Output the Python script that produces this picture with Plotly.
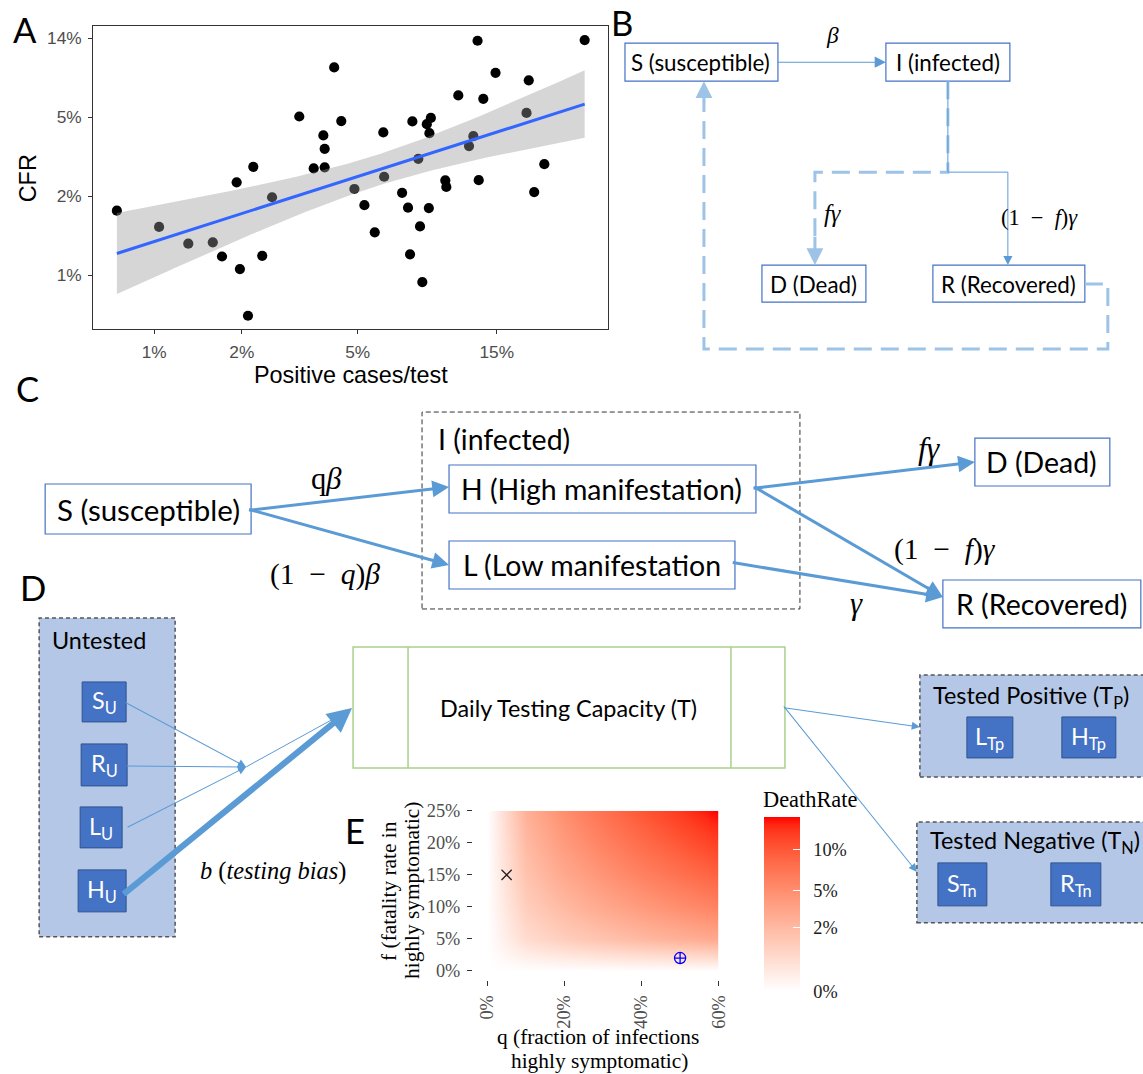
import numpy as np
import plotly.graph_objects as go

W, H = 1143, 1074

# ---------------- Panel A data (positive cases/test %, CFR on plotted scale) ----------------
positive_rate = [0.745, 1.04, 1.31, 1.59, 1.71, 1.92, 1.97, 2.10, 2.19, 2.35, 2.54, 3.15,
                 3.53, 3.81, 3.85, 3.85, 4.15, 4.39, 4.87, 5.27, 5.72, 6.12, 6.16, 7.10,
                 7.44, 7.56, 7.70, 8.07, 8.18, 8.33, 8.63, 8.81, 8.91, 8.77, 9.99, 10.07,
                 11.07, 12.05, 12.47, 13.01, 12.89, 13.49, 14.86, 18.98, 19.32, 20.17, 21.85, 30.06]
cfr = [2.05, 1.71, 1.42, 1.44, 1.23, 2.81, 1.07, 0.636, 3.34, 1.24, 2.38, 5.85,
       3.28, 4.74, 4.08, 3.32, 10.1, 5.56, 2.61, 2.18, 1.61, 4.90, 2.99, 2.50,
       2.12, 1.26, 5.54, 3.65, 1.72, 0.925, 5.37, 4.86, 5.76, 2.11, 2.87, 2.67,
       7.40, 4.21, 4.70, 2.88, 13.6, 7.12, 9.51, 6.09, 8.75, 2.52, 3.44, 13.7]
x_tickvals = [1, 2, 5, 15]
x_ticktext = ["1%", "2%", "5%", "15%"]
y_tickvals = [1, 2.41, 5.81, 14]
y_ticktext = ["1%", "2%", "5%", "14%"]

# ---------------- Panel E data ----------------
q_values = [0.0, 0.1, 0.2, 0.3, 0.4, 0.5, 0.6]
f_values = [0.0, 0.05, 0.10, 0.15, 0.20, 0.25]
death_rate = [
    [0.0, 0.0,   0.0,  0.0,   0.0,  0.0,   0.0],
    [0.0, 0.005, 0.01, 0.015, 0.02, 0.025, 0.03],
    [0.0, 0.01,  0.02, 0.03,  0.04, 0.05,  0.06],
    [0.0, 0.015, 0.03, 0.045, 0.06, 0.075, 0.09],
    [0.0, 0.02,  0.04, 0.06,  0.08, 0.10,  0.12],
    [0.0, 0.025, 0.05, 0.075, 0.10, 0.125, 0.15],
]
marker_q = [0.05, 0.50]
marker_f = [0.15, 0.02]
q_ticks = [0, 0.2, 0.4, 0.6]
q_ticktext = ["0%", "20%", "40%", "60%"]
f_ticks = [0, 0.05, 0.10, 0.15, 0.20, 0.25]
f_ticktext = ["0%", "5%", "10%", "15%", "20%", "25%"]
legend_ticks = [0, 0.02, 0.05, 0.10]
legend_ticktext = ["0%", "2%", "5%", "10%"]

# ---------------- styling ----------------
SANS = "Liberation Sans"
DIAG = "Lato"
SERIF = "Liberation Serif"
BLUE_LINE = "#5B9BD5"
BLUE_LIGHT = "#9DC3E6"
BOX_BORDER = "#4472C4"
FILL_LIGHT = "#B4C7E7"
SQ_FILL = "#4472C4"
SQ_LINE = "#2F528F"
GREEN = "#A9D18E"
SP = "\u2002"  # en space around operators in math labels

# The photographed page shows the figure inset by ~10 px and scaled; layout positions
# below are given in picture pixels and mapped back to paper coordinates.
SX, SY = W / (W + 20), H / (H + 20)
OX, OY = 10 * SX, 10 * SY
K = 1 / SX  # size factor for fonts / pixel lengths


def PX(x):
    return ((x - OX) / SX) / W


def PY(y):
    return 1 - ((y - OY) / SY) / H


shapes = []
annotations = []


def rect(x0, y0, x1, y1, color, width=1.2, fill="rgba(0,0,0,0)", dash="solid"):
    shapes.append(dict(type="rect", xref="paper", yref="paper",
                       x0=PX(x0), x1=PX(x1), y0=PY(y1), y1=PY(y0),
                       line=dict(color=color, width=width, dash=dash),
                       fillcolor=fill, layer="above"))


def poly(points, color, width, dash="solid"):
    path = "M " + " L ".join(f"{PX(x):.5f},{PY(y):.5f}" for x, y in points)
    shapes.append(dict(type="path", xref="paper", yref="paper", path=path,
                       line=dict(color=color, width=width, dash=dash), layer="above"))


def arrow(tail, head, color, width, size, style=2):
    annotations.append(dict(x=PX(head[0]), y=PY(head[1]), xref="paper", yref="paper",
                            ax=(tail[0] - head[0]) / SX, ay=(tail[1] - head[1]) / SY,
                            axref="pixel", ayref="pixel", text="", showarrow=True,
                            arrowhead=style, arrowsize=size, arrowwidth=width * K,
                            arrowcolor=color, standoff=0, startstandoff=0))


def label(x, y, s, size, family=DIAG, color="black", xanchor="center", angle=0):
    annotations.append(dict(x=PX(x), y=PY(y), xref="paper", yref="paper", text=s,
                            showarrow=False, xanchor=xanchor, yanchor="middle",
                            textangle=angle, font=dict(size=size * K, family=family, color=color)))


# ---------------- Lab gradient white -> red (ggplot style) ----------------
def _to_lin(c):
    c = c / 255.0
    return c / 12.92 if c <= 0.04045 else ((c + 0.055) / 1.055) ** 2.4


def _to_srgb(c):
    c = min(max(c, 0.0), 1.0)
    v = 12.92 * c if c <= 0.0031308 else 1.055 * c ** (1 / 2.4) - 0.055
    return int(round(v * 255))


def rgb2lab(rgb):
    r, g, b = [_to_lin(v) for v in rgb]
    X = (0.4124 * r + 0.3576 * g + 0.1805 * b) / 0.95047
    Y = (0.2126 * r + 0.7152 * g + 0.0722 * b)
    Z = (0.0193 * r + 0.1192 * g + 0.9505 * b) / 1.08883
    f = lambda t: t ** (1 / 3) if t > 0.008856 else 7.787 * t + 16 / 116
    fx, fy, fz = f(X), f(Y), f(Z)
    return (116 * fy - 16, 500 * (fx - fy), 200 * (fy - fz))


def lab2rgb(lab):
    L, a, b = lab
    fy = (L + 16) / 116
    fx = fy + a / 500
    fz = fy - b / 200
    finv = lambda t: t ** 3 if t ** 3 > 0.008856 else (t - 16 / 116) / 7.787
    X, Y, Z = 0.95047 * finv(fx), finv(fy), 1.08883 * finv(fz)
    r = 3.2406 * X - 1.5372 * Y - 0.4986 * Z
    g = -0.9689 * X + 1.8758 * Y + 0.0415 * Z
    bb = 0.0557 * X - 0.2040 * Y + 1.0570 * Z
    return f"rgb({_to_srgb(r)},{_to_srgb(g)},{_to_srgb(bb)})"


lab_w, lab_r = rgb2lab((255, 255, 255)), rgb2lab((255, 0, 0))
colorscale = []
for t in np.linspace(0, 1, 21):
    lab = tuple(lab_w[i] + (lab_r[i] - lab_w[i]) * t for i in range(3))
    colorscale.append([float(t), lab2rgb(lab)])

# ---------------- Panel A regression (lm on log-log scale) ----------------
lx = np.log10(np.array(positive_rate))
ly = np.log10(np.array(cfr))
slope, intercept = np.polyfit(lx, ly, 1)
n = len(lx)
resid = ly - (intercept + slope * lx)
s_err = np.sqrt((resid ** 2).sum() / (n - 2))
xg = np.linspace(lx.min(), lx.max(), 100)
fit = intercept + slope * xg
se = s_err * np.sqrt(1 / n + (xg - lx.mean()) ** 2 / ((lx - lx.mean()) ** 2).sum())
t_crit = 2.0129
rib_x = np.concatenate([10 ** xg, (10 ** xg)[::-1]])
rib_y = np.concatenate([10 ** (fit + t_crit * se), (10 ** (fit - t_crit * se))[::-1]])

fig = go.Figure()
fig.add_trace(go.Scatter(x=positive_rate, y=cfr, mode="markers",
                         marker=dict(color="black", size=10 * K), xaxis="x", yaxis="y",
                         showlegend=False, hoverinfo="skip"))
fig.add_trace(go.Scatter(x=rib_x, y=rib_y, mode="lines", fill="toself",
                         fillcolor="rgba(153,153,153,0.4)", line=dict(width=0),
                         xaxis="x", yaxis="y", showlegend=False, hoverinfo="skip"))
fig.add_trace(go.Scatter(x=10 ** xg, y=10 ** fit, mode="lines",
                         line=dict(color="#3366FF", width=3), xaxis="x", yaxis="y",
                         showlegend=False, hoverinfo="skip"))

# ---------------- Panel E heatmap ----------------
z_sqrt = np.sqrt(np.array(death_rate))
fig.add_trace(go.Heatmap(x=q_values, y=f_values, z=z_sqrt, zsmooth="best",
                         colorscale=colorscale, zmin=0, zmax=np.sqrt(max(max(r) for r in death_rate)),
                         xaxis="x2", yaxis="y2", hoverinfo="skip",
                         colorbar=dict(x=PX(764), xanchor="left", y=PY(904.5), yanchor="middle",
                                       len=171 * K, lenmode="pixels", thickness=35 * K,
                                       thicknessmode="pixels",
                                       xpad=0, ypad=0, outlinewidth=0,
                                       tickvals=list(np.sqrt(legend_ticks)),
                                       ticktext=["\u2002" + t for t in legend_ticktext],
                                       ticks="inside", tickcolor="white", ticklen=7, tickwidth=1,
                                       tickfont=dict(family=SERIF, size=18 * K, color="#1a1a1a"))))
fig.add_trace(go.Scatter(x=[marker_q[0]], y=[marker_f[0]], mode="markers",
                         marker=dict(symbol="x-thin-open", size=10 * K, color="#222",
                                     line=dict(color="#222", width=1.3)),
                         xaxis="x2", yaxis="y2", showlegend=False, hoverinfo="skip"))
fig.add_trace(go.Scatter(x=[marker_q[1]], y=[marker_f[1]], mode="markers",
                         marker=dict(symbol="circle-cross-open", size=11 * K, color="blue",
                                     line=dict(color="blue", width=1.3)),
                         xaxis="x2", yaxis="y2", showlegend=False, hoverinfo="skip"))

# ---------------- Panel A text ----------------
label(25, 29, "A", 34, DIAG)
label(28, 178, "CFR", 23, SANS, angle=-90)
label(351, 375, "Positive cases/test", 23, SANS)

# ---------------- Panel B ----------------
label(622, 22, "B", 34, DIAG)
rect(625, 43, 778, 81, BOX_BORDER)
label(701, 62, "S (susceptible)", 22)
rect(886, 43, 1010, 81, BOX_BORDER)
label(948, 62, "I (infected)", 22)
arrow((778, 62), (886, 62), BLUE_LINE, 1, 2.2)
label(833, 35, "<i>β</i>", 23, SERIF)
poly([(948, 81), (948, 172), (815, 172), (815, 238)], BLUE_LIGHT, 3, "18px,9px")
arrow((815, 236), (815, 265), BLUE_LIGHT, 3, 1.1)
poly([(948, 81), (948, 172), (1008, 172), (1008, 258)], BLUE_LINE, 1)
arrow((1008, 255), (1008, 265), BLUE_LINE, 1, 1.8)
label(833, 213, "<i>fγ</i>", 24, SERIF)
label(1040, 217, f"(1{SP}−{SP}<i>f</i>)<i>γ</i>", 22, SERIF)
rect(762, 265, 866, 302, BOX_BORDER)
label(814, 284, "D (Dead)", 22)
rect(933, 265, 1085, 302, BOX_BORDER)
label(1009, 284, "R (Recovered)", 22)
poly([(1085, 284), (1108, 284), (1108, 349), (704, 349), (704, 102)], BLUE_LIGHT, 3, "18px,9px")
arrow((704, 104), (704, 81), BLUE_LIGHT, 3, 1.1)

# ---------------- Panel C ----------------
label(27, 388, "C", 34, DIAG)
rect(422, 412, 800, 609, "#333", 1, dash="5px,3px")
label(436, 439, "I (infected)", 28, xanchor="left")
rect(45, 484, 251, 534, BOX_BORDER)
label(148, 509, "S (susceptible)", 29)
rect(449, 465, 756, 513, BOX_BORDER)
label(602, 489, "H (High manifestation)", 28)
rect(449, 541, 735, 589, BOX_BORDER)
label(592, 565, "L (Low manifestation", 28)
rect(975, 438, 1110, 486, BOX_BORDER)
label(1042, 462, "D (Dead)", 28)
rect(943, 580, 1141, 628, BOX_BORDER)
label(1042, 604, "R (Recovered)", 28)
arrow((251, 510), (449, 487), BLUE_LINE, 3, 1.1)
arrow((251, 510), (449, 565), BLUE_LINE, 3, 1.1)
arrow((756, 488), (975, 462), BLUE_LINE, 3, 1.1)
arrow((756, 488), (943, 597), BLUE_LINE, 3, 1.1)
arrow((735, 563), (943, 597), BLUE_LINE, 3, 1.1)
label(326, 479, "q<i>β</i>", 30, SERIF)
label(325, 575, f"(1{SP}−{SP}<i>q</i>)<i>β</i>", 29, SERIF)
label(930, 448, "<i>fγ</i>", 31, SERIF)
label(945, 550, f"(1{SP}−{SP}<i>f</i>)<i>γ</i>", 29, SERIF)
label(857, 604, "<i>γ</i>", 30, SERIF)

# ---------------- Panel D ----------------
label(33, 588, "D", 34, DIAG)
rect(39, 618, 175, 937, "#555", 1.5, FILL_LIGHT, "4px,3px")
label(50, 640, "Untested", 23, xanchor="left")
for (x0, y0, x1, y1, txt) in [(82, 682, 126, 722, "S<sub>U</sub>"), (81, 744, 127, 786, "R<sub>U</sub>"),
                              (80, 807, 122, 848, "L<sub>U</sub>"), (78, 870, 126, 912, "H<sub>U</sub>")]:
    rect(x0, y0, x1, y1, SQ_LINE, 1, SQ_FILL)
    label((x0 + x1) / 2, (y0 + y1) / 2, txt, 23, color="white")
arrow((126, 703), (246, 767), BLUE_LINE, 1, 1.6)
arrow((127, 766), (246, 767), BLUE_LINE, 1, 1.6)
arrow((128, 827), (246, 767), BLUE_LINE, 1, 1.6)
poly([(246, 767), (335, 718)], BLUE_LINE, 1)
arrow((126, 892), (352, 708), BLUE_LINE, 6, 0.8)
label(273, 871, "<i>b</i> (<i>testing bias</i>)", 24, SERIF)

rect(353, 647, 785, 768, GREEN, 1.5)
poly([(408, 647), (408, 768)], GREEN, 1.5)
poly([(731, 647), (731, 768)], GREEN, 1.5)
label(568, 708, "Daily Testing Capacity (T)", 23)
arrow((785, 708), (920, 727), BLUE_LINE, 1, 1.6)
arrow((785, 708), (917, 872), BLUE_LINE, 1, 1.6)

rect(920, 675, 1160, 777, "#555", 1.5, FILL_LIGHT, "4px,3px")
label(931, 697, "Tested Positive (T<sub>P</sub>)", 23, xanchor="left")
for (x0, y0, x1, y1, txt) in [(967, 717, 1013, 758, "L<sub>Tp</sub>"), (1062, 717, 1116, 758, "H<sub>Tp</sub>")]:
    rect(x0, y0, x1, y1, SQ_LINE, 1, SQ_FILL)
    label((x0 + x1) / 2, (y0 + y1) / 2, txt, 23, color="white")
rect(917, 822, 1160, 923, "#555", 1.5, FILL_LIGHT, "4px,3px")
label(928, 842, "Tested Negative (T<sub>N</sub>)", 23, xanchor="left")
for (x0, y0, x1, y1, txt) in [(938, 863, 987, 906, "S<sub>Tn</sub>"), (1051, 863, 1101, 906, "R<sub>Tn</sub>")]:
    rect(x0, y0, x1, y1, SQ_LINE, 1, SQ_FILL)
    label((x0 + x1) / 2, (y0 + y1) / 2, txt, 23, color="white")

# ---------------- Panel E text ----------------
label(355, 831, "E", 34, DIAG)
label(389, 891, "f (fatality rate in", 21, SERIF, angle=-90)
label(412, 891, "highly symptomatic)", 21, SERIF, angle=-90)
label(598, 1037, "q (fraction of infections", 21, SERIF)
label(600, 1061, "highly symptomatic)", 21, SERIF)
label(810, 800, "DeathRate", 22, SERIF)

axis_common = dict(showgrid=False, zeroline=False, ticks="outside", tickwidth=1)
fig.update_layout(
    width=W, height=H, margin=dict(l=0, r=0, t=0, b=0),
    paper_bgcolor="white", plot_bgcolor="white",
    font=dict(family=SANS, color="black"),
    showlegend=False,
    xaxis=dict(type="log", domain=[PX(93), PX(608)], range=[-0.2093, 1.558], anchor="y",
               tickvals=x_tickvals, ticktext=x_ticktext, tickcolor="#333", ticklen=4,
               showline=True, mirror=True, linecolor="#333", linewidth=1,
               tickfont=dict(family=SANS, size=17 * K, color="#4D4D4D"), ticklabelstandoff=3,
               **axis_common),
    yaxis=dict(type="log", domain=[PY(329), PY(26)], range=[-0.261, 1.204], anchor="x",
               tickvals=y_tickvals, ticktext=y_ticktext, tickcolor="#333", ticklen=4,
               showline=True, mirror=True, linecolor="#333", linewidth=1,
               tickfont=dict(family=SANS, size=17 * K, color="#4D4D4D"), ticklabelstandoff=3,
               **axis_common),
    xaxis2=dict(domain=[PX(487.3), PX(718.7)], range=[0, 0.6], anchor="free", position=PY(980),
                tickvals=q_ticks, ticktext=q_ticktext, tickangle=-90, tickcolor="#333", ticklen=5,
                showline=False, tickfont=dict(family=SERIF, size=18 * K, color="#4D4D4D"),
                ticklabelstandoff=2, **axis_common),
    yaxis2=dict(domain=[PY(971), PY(811)], range=[0, 0.25], anchor="free", position=PX(472),
                tickvals=f_ticks, ticktext=f_ticktext, tickcolor="#333", ticklen=5,
                showline=False, tickfont=dict(family=SERIF, size=18 * K, color="#4D4D4D"),
                ticklabelstandoff=3, **axis_common),
    shapes=shapes,
    annotations=annotations,
)

POST = """
var s = document.createElement('style');
s.innerHTML = 'html,body{margin:0!important;padding:0!important;overflow:hidden!important;}'
            + '.plotly-graph-div{position:fixed!important;left:0!important;top:0!important;}';
document.head.appendChild(s);
"""
fig.write_html("out.html", config={"displayModeBar": False}, post_script=POST)
